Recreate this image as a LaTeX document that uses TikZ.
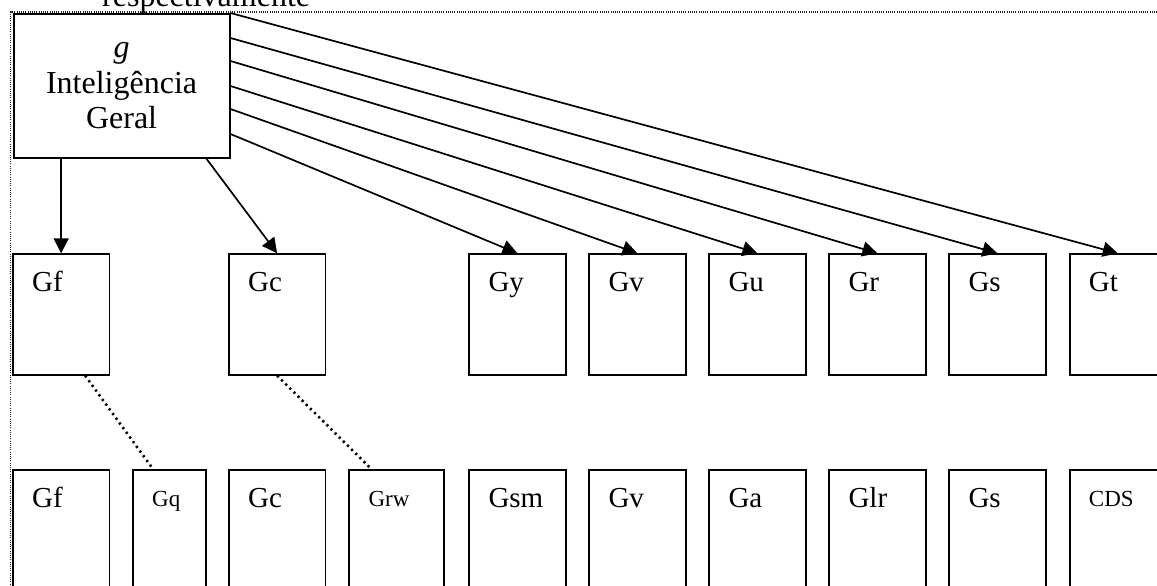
\documentclass[tikz,border=0pt]{standalone}
\usepackage{fontspec}
\setmainfont{Liberation Serif}
\usetikzlibrary{arrows.meta,calc}
\begin{document}
\begin{tikzpicture}[x=1pt,y=-1pt,
  box/.style={draw,line width=1.8pt,rectangle,inner sep=0pt,minimum width=96.5pt,minimum height=120.5pt,anchor=north west},
  lowbox/.style={box,minimum height=140pt},
  narrowbox/.style={lowbox,minimum width=72.7pt},
  lbl/.style={anchor=base west,inner sep=0pt,font=\fontsize{29}{34}\selectfont},
  slbl/.style={anchor=base west,inner sep=0pt,font=\fontsize{23}{27}\selectfont},
  arr/.style={line width=1.7pt,-{Triangle[length=15pt,width=15pt]}},
  dots/.style={line width=2.6pt,dash pattern=on 2.2pt off 3.6pt},
  framed/.style={line width=1.5pt,dash pattern=on 1pt off 1.2pt,draw=black!85}]
\useasboundingbox (0,0) rectangle (1157,586);
\draw[framed] (10.5,600) -- (10.5,12) -- (1165,12);
\node[anchor=base west,inner sep=0pt,font=\fontsize{32}{36}\selectfont] (resp) at (102,7) {respectivamente};
\node[draw,line width=1.8pt,fill=white,inner sep=0pt,minimum width=216pt,minimum height=144pt,anchor=north west,align=center,font=\fontsize{32}{35.5}\selectfont] (g) at (12.7,13) {\textit{g}\\Inteligência\\Geral};
% top row
\foreach \n/\x/\t in {t1/12/Gf, t2/228/Gc, t3/468.3/Gy, t4/588.3/Gv, t5/708.3/Gu, t6/828.3/Gr, t7/948.3/Gs, t8/1068.7/Gt} {
  \node[box] (\n) at (\x,253.3) {};
  \node[lbl] (\n-l) at ([shift={(20pt,-38.5pt)}]\n.north west) {\t};
}
% bottom row
\foreach \n/\x/\t in {b1/12/Gf, b3/228/Gc, b5/468.3/Gsm, b6/588.3/Gv, b7/708.3/Ga, b8/828.3/Glr, b9/948.3/Gs} {
  \node[lowbox] (\n) at (\x,469) {};
  \node[lbl] (\n-l) at ([shift={(20pt,-38.5pt)}]\n.north west) {\t};
}
\node[narrowbox] (b2) at (132,469) {};
\node[slbl] (b2-l) at ([shift={(20pt,-37.5pt)}]b2.north west) {Gq};
\node[lowbox,minimum width=95pt] (b4) at (348.3,469) {};
\node[slbl] (b4-l) at ([shift={(20pt,-37.5pt)}]b4.north west) {Grw};
\node[lowbox] (b10) at (1068.7,469) {};
\node[slbl] (b10-l) at ([shift={(20pt,-37.5pt)}]b10.north west) {CDS};
% arrows
\draw[arr] (g.south -| t1.north) -- (t1.north);
\draw[arr] ([xshift=-24pt]g.south east) -- (t2.north);
\draw[arr] (g.north east) -- (t8.north);
\draw[arr] ([yshift=-25pt]g.north east) -- (t7.north);
\draw[arr] ([yshift=-48pt]g.north east) -- (t6.north);
\draw[arr] ([yshift=-73pt]g.north east) -- (t5.north);
\draw[arr] ([yshift=-96pt]g.north east) -- (t4.north);
\draw[arr] ([yshift=-121pt]g.north east) -- (t3.north);
% dotted links
\draw[dots] ([xshift=24pt]t1.south) -- ([xshift=21pt]b2.north west);
\draw[dots] (t2.south) -- ([xshift=23pt]b4.north west);
\end{tikzpicture}
\end{document}
